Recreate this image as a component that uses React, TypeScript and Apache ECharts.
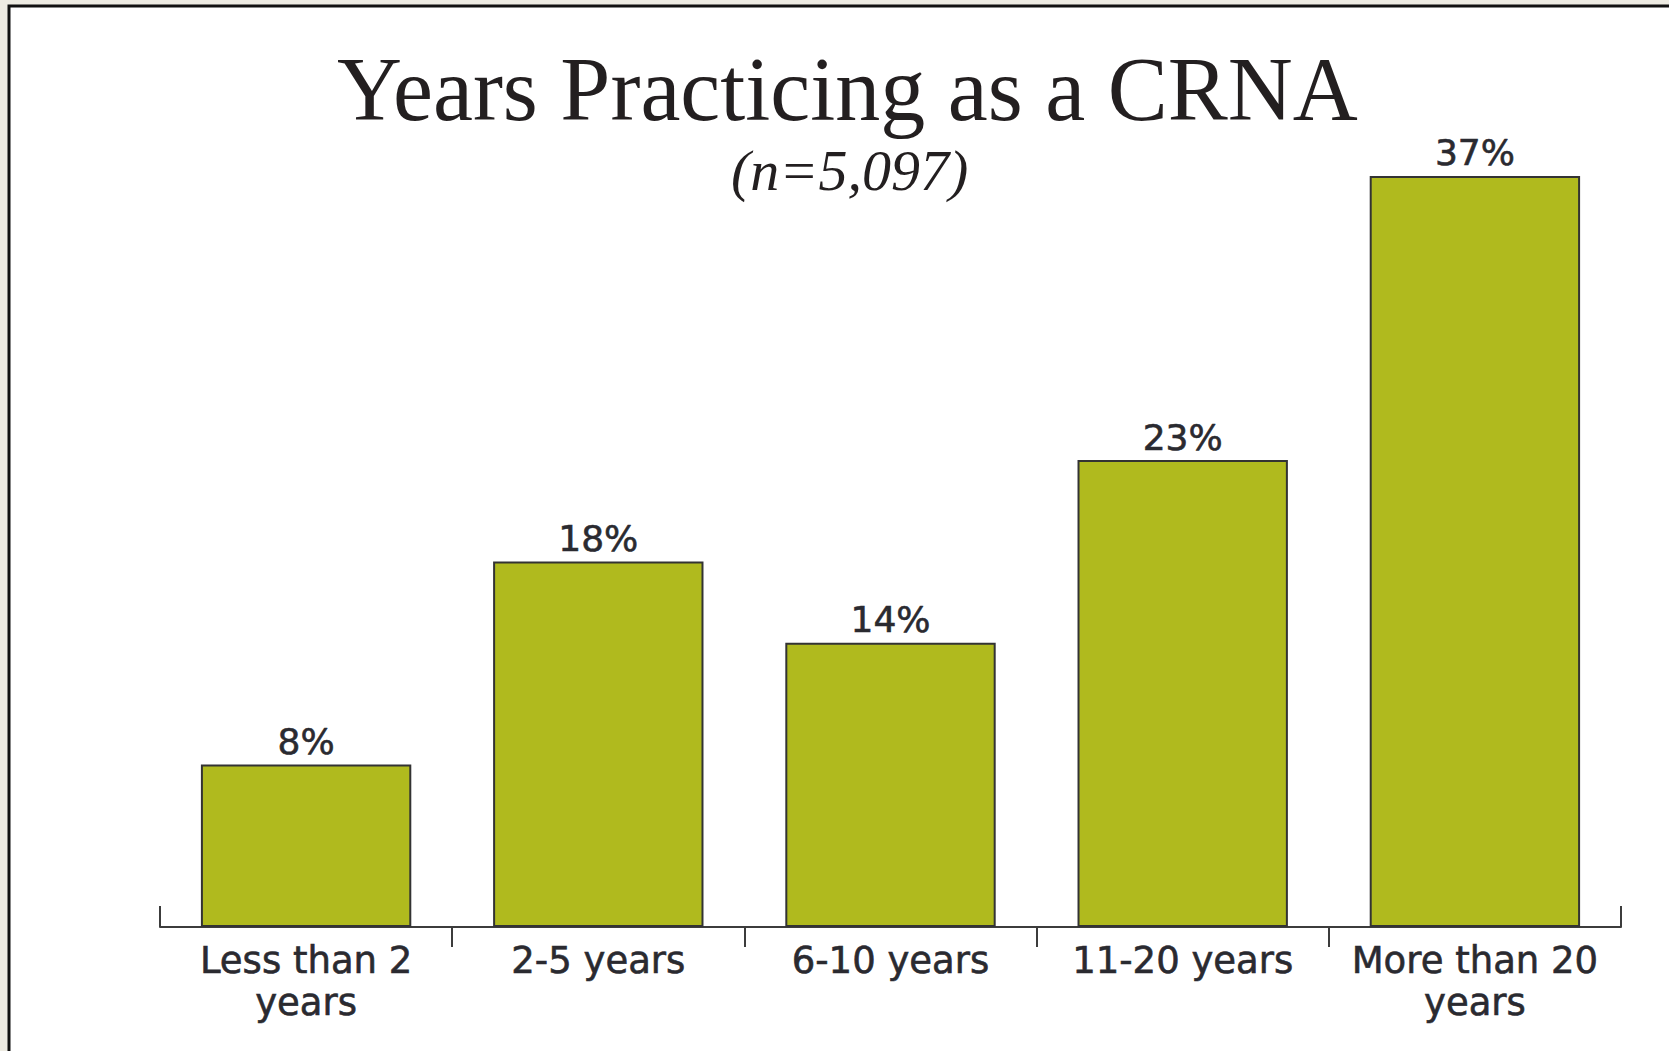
import React, { useEffect, useRef } from "react";
import * as echarts from "echarts";

const categories = [
  "Less than 2\nyears",
  "2-5 years",
  "6-10 years",
  "11-20 years",
  "More than 20\nyears",
];
const percentValues = [8, 18, 14, 23, 37];
const titleText = "Years Practicing as a CRNA";
const subtitleText = "(n=5,097)";
const innerTicks = [1, 2, 3, 4];
const endTicks = [0, 5];

const TEXT = "#2a2a30";
const LINE = "#3c3c3c";

export default function App() {
  const ref = useRef<HTMLDivElement>(null);
  useEffect(() => {
    if (!ref.current) return;
    const chart = echarts.init(ref.current, null, { renderer: "svg" });
    chart.setOption({
      animation: false,
      backgroundColor: "#edebe2",
      graphic: [
        {
          type: "rect",
          z: -10,
          shape: { x: 9, y: 6, width: 1720, height: 1100 },
          style: { fill: "#ffffff", stroke: "#111111", lineWidth: 3 },
        },
      ],
      title: [
        {
          text: titleText,
          left: 337,
          top: 44,
          padding: 0,
          textStyle: {
            fontFamily: "Liberation Serif",
            fontSize: 90,
            fontWeight: "normal",
            color: "#231f20",
          },
        },
        {
          text: subtitleText,
          left: 731,
          top: 141,
          padding: 0,
          textStyle: {
            fontFamily: "Liberation Serif",
            fontStyle: "italic",
            fontSize: 58,
            fontWeight: "normal",
            color: "#231f20",
          },
        },
      ],
      grid: { left: 160, right: 48, top: 115, bottom: 124, containLabel: false },
      xAxis: [
        {
          type: "category",
          data: categories,
          axisLine: { show: true, onZero: false, lineStyle: { color: LINE, width: 2 } },
          axisTick: { show: false },
          axisLabel: {
            interval: 0,
            margin: 12,
            fontFamily: "DejaVu Sans",
            fontSize: 37,
            lineHeight: 42,
            color: TEXT,
            textBorderColor: TEXT,
            textBorderWidth: 0.6,
          },
          splitLine: { show: false },
        },
        {
          type: "value",
          min: 0,
          max: 5,
          position: "bottom",
          axisLine: { show: false, onZero: false },
          axisLabel: { show: false },
          splitLine: { show: false },
          axisTick: {
            show: true,
            customValues: innerTicks,
            length: 20,
            inside: false,
            lineStyle: { color: LINE, width: 2 },
          },
        },
        {
          type: "value",
          min: 0,
          max: 5,
          position: "bottom",
          axisLine: { show: false, onZero: false },
          axisLabel: { show: false },
          splitLine: { show: false },
          axisTick: {
            show: true,
            customValues: endTicks,
            length: 21,
            inside: true,
            lineStyle: { color: LINE, width: 2 },
          },
        },
      ],
      yAxis: {
        type: "value",
        min: 0,
        max: 40,
        show: false,
      },
      series: [
        {
          type: "bar",
          xAxisIndex: 0,
          data: percentValues,
          barCategoryGap: "28%",
          itemStyle: { color: "#b0ba1e", borderColor: "#333333", borderWidth: 2 },
          label: {
            show: true,
            position: "top",
            distance: 5,
            formatter: "{c}%",
            fontFamily: "DejaVu Sans",
            fontSize: 36,
            color: TEXT,
            textBorderColor: TEXT,
            textBorderWidth: 0.6,
          },
        },
      ],
    });
    return () => chart.dispose();
  }, []);
  return (
    <div
      ref={ref}
      style={{ position: "fixed", left: 0, top: 0, width: 1669, height: 1051 }}
    />
  );
}
